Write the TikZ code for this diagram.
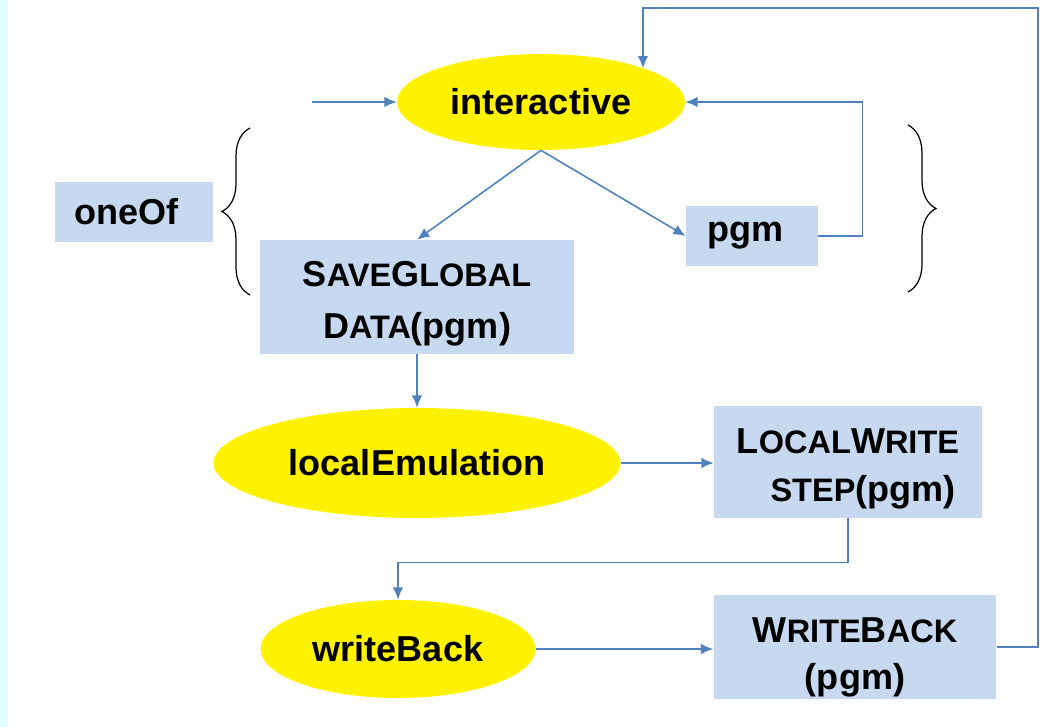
\documentclass[tikz,border=0pt]{standalone}
\usepackage{fontspec}
\setmainfont{Liberation Sans}
\usetikzlibrary{arrows.meta,shapes.geometric,decorations.pathreplacing}

\definecolor{flowblue}{RGB}{79,129,189}
\definecolor{boxblue}{RGB}{198,217,240}
\definecolor{stripcyan}{RGB}{224,255,255}

\begin{document}
\begin{tikzpicture}[x=0.02cm,y=-0.02cm,>={Latex[length=7pt,width=6pt]},
  state/.style={ellipse,fill=yellow,inner sep=0pt,font=\bfseries\fontsize{20.5}{27}\selectfont},
  stepbox/.style={rectangle,fill=boxblue,inner sep=0pt,align=center,font=\bfseries\fontsize{20.5}{27}\selectfont},
  flow/.style={->,draw=flowblue,line width=0.9pt},
  bracket/.style={draw=black,line width=0.7pt,decorate,decoration={brace,amplitude=0.56cm}}]
  \newcommand*{\SmallCaps}[1]{{\fontsize{18.5}{27}\selectfont #1}}
  \newcommand*{\Strut}[1]{\rule{0pt}{#1}}
  \useasboundingbox (0,0) rectangle (1052,727);
  \fill[stripcyan] (0,0) rectangle (8,727);
  % states
  \node[state,minimum width=5.76cm,minimum height=1.92cm] (interactive) at (541,102) {interactive};
  \node[state,minimum width=8.14cm,minimum height=2.2cm] (local) at (417,463) {localEmulation};
  \node[state,minimum width=5.5cm,minimum height=1.96cm] (wback) at (398,649) {writeBack};
  % steps
  \node[stepbox,minimum width=3.18cm,minimum height=1.2cm,text width=2.4cm,inner xsep=0.39cm,align=left] (oneOf) at (134,212) {oneOf};
  \node[stepbox,minimum width=2.64cm,minimum height=1.22cm,text width=1.8cm,inner xsep=0.42cm,align=left] (pgm) at (752,236) {pgm};
  \node[stepbox,minimum width=6.28cm,minimum height=2.28cm] (save) at (417,297)
    {\Strut{22pt}S\SmallCaps{AVE}G\SmallCaps{LOBAL}\\[3pt] D\SmallCaps{ATA}(pgm)};
  \node[stepbox,minimum width=5.36cm,minimum height=2.24cm] (lwrite) at (848,462)
    {\Strut{22pt}L\SmallCaps{OCAL}W\SmallCaps{RITE}\\ \hspace*{0.6cm}\SmallCaps{STEP}(pgm)};
  \node[stepbox,minimum width=5.66cm,minimum height=2.1cm] (wbox) at (855,647)
    {\Strut{26pt}W\SmallCaps{RITE}B\SmallCaps{ACK}\\ (pgm)};
  % braces round the choice
  \coordinate (leftLow) at (250,295);
  \coordinate (leftHigh) at (250,128);
  \coordinate (rightHigh) at (908,125);
  \coordinate (rightLow) at (908,292);
  \draw[bracket] (leftLow) -- (leftHigh);
  \draw[bracket] (rightHigh) -- (rightLow);
  % flow
  \coordinate (entry) at (312,102);
  \coordinate (loopCorner) at (643,8);
  \draw[flow] (entry) -- (interactive.west);
  \draw[flow] (interactive.south) -- (save.north);
  \draw[flow] (interactive.south) -- (pgm.west);
  \draw[flow] (pgm.east) -- ++(44,0) |- (interactive.east);
  \draw[flow] (save.south) -- (local.north);
  \draw[flow] (local.east) -- (local.east -| lwrite.west);
  \draw[flow] (lwrite.south) -- ++(0,44) -| (wback.north);
  \draw[flow] (wback.east) -- (wback.east -| wbox.west);
  \draw[flow] (wbox.east) -- ++(41,0) |- (loopCorner) -- (loopCorner |- interactive.18);
\end{tikzpicture}
\end{document}
